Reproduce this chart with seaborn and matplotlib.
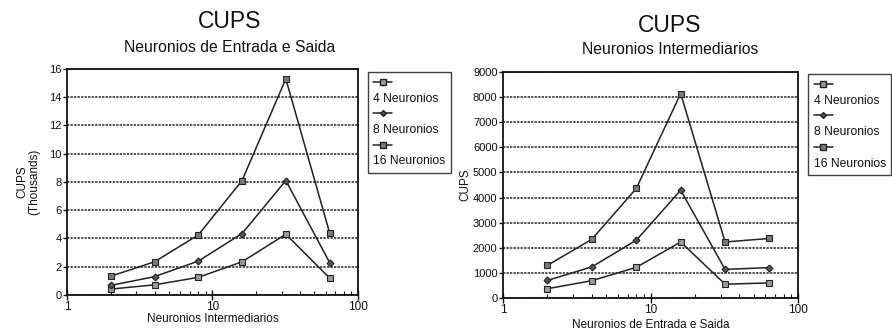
import matplotlib
matplotlib.use("Agg")
import matplotlib.pyplot as plt
import seaborn as sns
import pandas as pd
from matplotlib.lines import Line2D
from matplotlib.ticker import LogLocator, NullFormatter, FixedLocator

sns.set_theme(style="white")
plt.rcParams['font.family'] = ['Liberation Sans', 'DejaVu Sans']

# ---- data ----
series_names = ["4 Neuronios", "8 Neuronios", "16 Neuronios"]
x_vals = [2, 4, 8, 16, 32, 64]

# Left: CUPS (thousands) vs Neuronios Intermediarios
left_4 = [0.42, 0.72, 1.25, 2.35, 4.3, 1.2]
left_8 = [0.68, 1.3, 2.4, 4.35, 8.1, 2.3]
left_16 = [1.33, 2.35, 4.25, 8.1, 15.3, 4.4]

# Right: CUPS vs Neuronios de Entrada e Saida
right_4 = [370, 690, 1220, 2230, 550, 600]
right_8 = [700, 1240, 2300, 4290, 1140, 1210]
right_16 = [1300, 2340, 4360, 8140, 2230, 2370]

left_yticks = [0, 2, 4, 6, 8, 10, 12, 14, 16]
right_yticks = [0, 1000, 2000, 3000, 4000, 5000, 6000, 7000, 8000, 9000]
x_ticks = [1, 10, 100]

style = {
    "4 Neuronios": dict(marker="s", markersize=4.5, markerfacecolor="#9a9a9a"),
    "8 Neuronios": dict(marker="D", markersize=3.5, markerfacecolor="#555555"),
    "16 Neuronios": dict(marker="s", markersize=4.5, markerfacecolor="#7a7a7a"),
}
line_col = "#222222"

fig = plt.figure(figsize=(8.92, 3.32), dpi=100)
axL = fig.add_axes([0.0751, 0.1114, 0.326, 0.681])
axR = fig.add_axes([0.564, 0.1024, 0.3307, 0.681])


def draw(ax, series, yticks, ylim):
    for name, vals in zip(series_names, series):
        df = pd.DataFrame({"x": x_vals, "y": vals})
        sns.lineplot(data=df, x="x", y="y", color=line_col, linewidth=1.1,
                     markeredgecolor=line_col, markeredgewidth=0.8,
                     legend=False, ax=ax, **style[name])
    ax.set_xscale("log")
    ax.set_xlim(1, 100)
    ax.set_ylim(*ylim)
    ax.xaxis.set_major_locator(FixedLocator(x_ticks))
    ax.set_xticklabels([str(t) for t in x_ticks])
    ax.xaxis.set_minor_locator(LogLocator(base=10, subs=range(2, 10)))
    ax.xaxis.set_minor_formatter(NullFormatter())
    ax.set_yticks(yticks)
    ax.set_yticklabels([str(t) for t in yticks])
    ax.yaxis.grid(True, color="#222222", linestyle=(0, (1.5, 0.8)), linewidth=1.1)
    ax.xaxis.grid(False)
    for s in ax.spines.values():
        s.set_color("#111111")
        s.set_linewidth(1.3)
    ax.tick_params(axis="x", which="major", direction="inout", length=7, width=1, colors="#111111",
                   labelsize=8.5, pad=1, bottom=True)
    ax.tick_params(axis="x", which="minor", direction="in", length=3, width=0.8, colors="#111111",
                   bottom=True)
    ax.tick_params(axis="y", which="major", direction="out", length=3, width=1, colors="#111111",
                   labelsize=8, pad=1, left=True)
    for lbl in ax.get_xticklabels() + ax.get_yticklabels():
        lbl.set_color("#111111")


def legend(ax, anchor):
    handles, labels = [], []
    for n in series_names:
        st = dict(style[n])
        st["markersize"] = st["markersize"] * 0.85
        handles.append(Line2D([], [], color=line_col, markeredgecolor=line_col,
                              linewidth=1.1, **st))
        labels.append(" ")
        handles.append(Line2D([], [], color="none", linewidth=0))
        labels.append(n)
    leg = ax.legend(handles, labels, loc="upper left", bbox_to_anchor=anchor,
                    borderaxespad=0, frameon=True, fancybox=False, fontsize=8.7,
                    handlelength=1.6, handletextpad=-1.6, labelspacing=0.3,
                    borderpad=0.45)
    leg.get_frame().set_edgecolor("#111111")
    leg.get_frame().set_linewidth(1.0)
    for t in leg.get_texts():
        t.set_color("#111111")
    return leg


draw(axL, [left_4, left_8, left_16], left_yticks, (0, 16))
draw(axR, [right_4, right_8, right_16], right_yticks, (0, 9000))

legend(axL, (1.034, 0.987))
legend(axR, (1.034, 0.991))

axL.set_xlabel("Neuronios Intermediarios", fontsize=8.5, color="#111111", labelpad=0)
axL.set_ylabel("CUPS\n(Thousands)", fontsize=8.5, color="#111111", labelpad=6, linespacing=1.0)
axR.set_xlabel("Neuronios de Entrada e Saida", fontsize=8.5, color="#111111", labelpad=2)
axR.set_ylabel("CUPS", fontsize=8.5, color="#111111", labelpad=1)

fig.text(230 / 892, 1 - 22 / 332, "CUPS", ha="center", va="center", fontsize=16.5, color="#111111")
fig.text(230 / 892, 1 - 47 / 332, "Neuronios de Entrada e Saida", ha="center", va="center",
         fontsize=11.3, color="#111111")
fig.text(670 / 892, 1 - 25 / 332, "CUPS", ha="center", va="center", fontsize=16.5, color="#111111")
fig.text(670 / 892, 1 - 49 / 332, "Neuronios Intermediarios", ha="center", va="center",
         fontsize=11.3, color="#111111")

fig.savefig("out.png", dpi=100)
